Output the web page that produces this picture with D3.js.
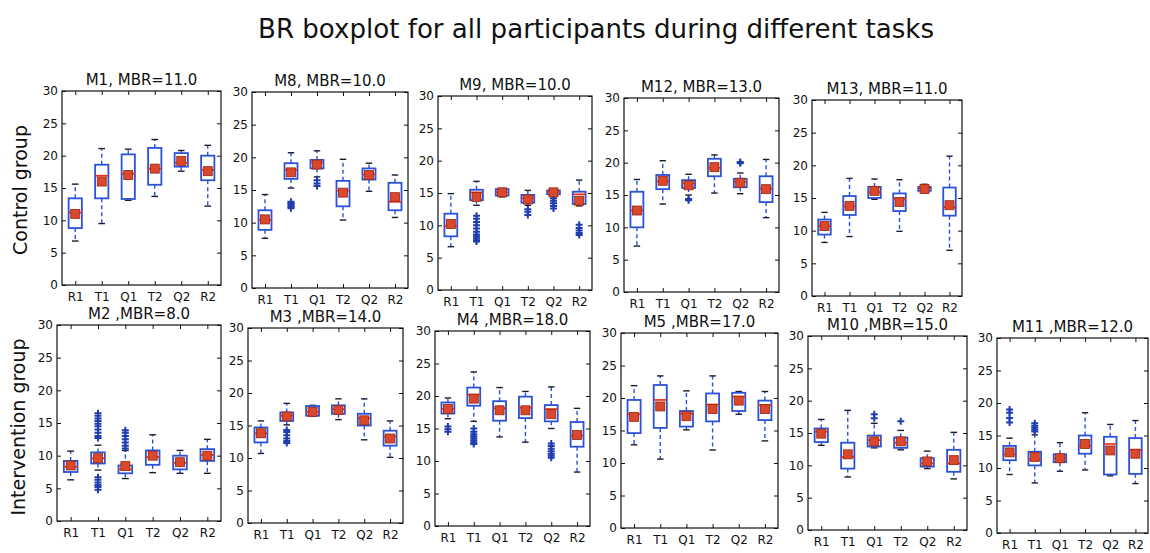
<!DOCTYPE html>
<html>
<head>
<meta charset="utf-8">
<script src="https://cdn.jsdelivr.net/npm/d3@7"></script>
<style>
  body { margin: 0; background: #fff; }
  svg { display: block; font-family: "DejaVu Sans", sans-serif; }
</style>
</head>
<body>
<svg id="chart" width="1150" height="553"></svg>
<script>
const tasks = ["R1", "T1", "Q1", "T2", "Q2", "R2"];
const yTicks = [0, 5, 10, 15, 20, 25, 30];

const panelTitles = [
  "M1, MBR=11.0", "M8, MBR=10.0", "M9, MBR=10.0", "M12, MBR=13.0", "M13, MBR=11.0",
  "M2 ,MBR=8.0", "M3 ,MBR=14.0", "M4 ,MBR=18.0", "M5 ,MBR=17.0", "M10 ,MBR=15.0", "M11 ,MBR=12.0"
];

// each row: [low cap, q1, median, q3, high cap, mean]
const m1 = [[6.8, 8.8, 11.2, 13.4, 15.6, 11.0], [9.5, 13.4, 16.9, 18.6, 21.1, 16.0], [13.1, 13.3, 17.2, 20.2, 21.0, 17.0],
  [13.7, 15.5, 18.0, 21.2, 22.5, 18.0], [17.6, 18.3, 18.9, 20.4, 20.8, 19.2], [12.2, 16.2, 17.8, 20.0, 21.6, 17.6]];
const m8 = [[7.6, 8.9, 10.4, 11.9, 14.3, 10.5], [15.3, 16.7, 18.1, 19.1, 20.7, 17.7], [17.0, 18.3, 19.2, 19.6, 21.0, 18.9],
  [10.4, 12.5, 14.9, 16.4, 19.7, 14.6], [14.8, 16.6, 17.4, 18.3, 19.1, 17.3], [10.8, 11.9, 13.2, 16.1, 17.3, 13.9]];
const m9 = [[6.7, 8.3, 9.9, 11.8, 14.9, 10.2], [13.1, 13.9, 15.1, 15.5, 16.8, 14.4], [14.4, 14.6, 15.1, 15.6, 15.7, 15.1],
  [13.1, 13.5, 14.2, 14.7, 15.4, 14.0], [14.7, 14.8, 15.2, 15.4, 15.6, 15.1], [13.0, 13.3, 14.8, 15.2, 17.0, 13.8]];
const m12 = [[7.1, 10.0, 12.6, 15.5, 17.4, 12.6], [13.6, 15.9, 17.1, 18.1, 20.3, 17.2], [15.0, 16.1, 16.8, 17.3, 18.2, 16.5],
  [15.3, 17.9, 19.2, 20.6, 21.2, 19.3], [15.2, 16.2, 17.0, 17.5, 18.4, 16.9], [11.5, 13.9, 16.0, 17.9, 20.5, 15.9]];
const m13 = [[8.2, 9.4, 10.7, 11.7, 12.8, 10.7], [9.1, 12.4, 13.7, 15.3, 18.0, 13.8], [14.8, 15.0, 15.9, 16.7, 17.9, 16.1],
  [9.9, 13.0, 14.9, 15.7, 17.8, 14.4], [15.8, 16.1, 16.5, 16.7, 17.1, 16.4], [7.0, 12.3, 13.6, 16.6, 21.4, 13.9]];
const m2 = [[6.3, 7.5, 8.3, 9.2, 10.7, 8.5], [7.8, 8.8, 9.6, 10.5, 11.6, 9.6], [6.5, 7.3, 7.9, 8.5, 10.8, 8.4],
  [7.4, 8.6, 9.8, 10.8, 13.2, 10.0], [7.3, 7.9, 8.9, 10.0, 10.8, 9.0], [7.3, 9.2, 10.1, 11.0, 12.5, 10.0]];
const m3 = [[10.7, 12.4, 13.8, 14.7, 15.7, 13.8], [15.1, 15.7, 16.5, 17.0, 18.4, 16.4], [16.5, 16.5, 17.1, 18.0, 18.1, 17.1],
  [15.9, 16.8, 17.5, 18.1, 19.1, 17.4], [12.8, 15.0, 16.1, 16.8, 19.1, 15.8], [10.1, 11.9, 13.3, 14.2, 15.7, 13.0]];
const m4 = [[16.5, 17.3, 18.0, 19.0, 19.7, 18.0], [16.1, 18.5, 20.2, 21.3, 23.7, 19.6], [13.7, 16.2, 18.1, 19.2, 21.3, 17.8],
  [12.9, 16.6, 18.2, 19.9, 20.7, 17.8], [15.0, 16.1, 18.0, 18.6, 21.4, 17.2], [8.3, 12.2, 13.9, 16.0, 18.1, 14.0]];
const m5 = [[12.8, 14.6, 17.5, 19.7, 21.9, 17.1], [10.6, 15.4, 19.7, 22.0, 23.4, 18.7], [15.1, 15.6, 17.6, 18.0, 21.1, 17.2],
  [12.0, 16.4, 19.0, 20.7, 23.4, 18.3], [17.5, 18.0, 20.2, 20.8, 21.0, 19.6], [13.4, 16.6, 18.9, 19.6, 21.0, 18.3]];
const m10 = [[13.1, 13.6, 15.2, 15.7, 17.1, 14.9], [8.2, 9.5, 11.3, 13.5, 18.5, 11.7], [12.7, 12.9, 13.9, 14.6, 16.5, 13.7],
  [12.4, 12.7, 13.5, 14.3, 15.4, 13.7], [9.5, 9.8, 10.3, 11.1, 12.2, 10.6], [7.9, 9.0, 10.3, 12.4, 15.1, 10.8]];
const m11 = [[9.0, 11.2, 12.1, 13.4, 14.6, 12.4], [7.7, 10.4, 11.3, 12.5, 15.1, 11.7], [9.5, 10.9, 11.5, 12.1, 13.9, 11.5],
  [9.7, 12.2, 13.4, 15.0, 18.5, 13.7], [8.8, 9.0, 13.7, 14.8, 16.7, 12.7], [7.6, 9.1, 12.8, 14.6, 17.3, 12.2]];

// outliers per task
const m1Fliers = [[], [], [], [], [], []];
const m8Fliers = [[], [13.2, 13.0, 12.8, 12.6, 12.4, 12.2], [16.5, 16.0, 15.6], [], [], []];
const m9Fliers = [[], [11.5, 11.0, 10.5, 10.0, 9.5, 9.0, 8.6, 8.3, 8.0, 7.7, 7.5], [], [12.5, 12.1, 11.6],
  [14.2, 13.8, 13.4, 13.0, 12.6], [10.1, 9.6, 9.2, 8.8, 8.5]];
const m12Fliers = [[], [], [14.4, 14.2], [], [20.1, 19.9], []];
const m13Fliers = [[], [], [], [], [], []];
const m2Fliers = [[], [16.5, 16.1, 15.7, 15.3, 14.9, 14.5, 14.0, 13.5, 13.0, 12.7, 6.7, 6.3, 5.9, 5.5, 5.2, 4.8],
  [13.9, 13.5, 13.0, 12.5, 12.0, 11.5, 11.1], [], [], []];
const m3Fliers = [[], [14.3, 14.0, 13.5, 13.0, 12.6, 12.3], [], [], [], []];
const m4Fliers = [[15.3, 14.9, 14.5], [15.0, 14.5, 14.1, 13.8, 13.5, 13.2, 12.9, 12.6], [], [],
  [12.7, 12.3, 11.9, 11.5, 11.1, 10.8, 10.5], []];
const m5Fliers = [[], [], [], [], [], []];
const m10Fliers = [[], [], [17.9, 17.3], [16.8], [], []];
const m11Fliers = [[19.0, 18.5, 17.7, 17.0], [16.9, 16.5, 16.2, 15.9, 15.6], [], [], [], []];

const panelStats = [m1, m8, m9, m12, m13, m2, m3, m4, m5, m10, m11];
const panelFliers = [m1Fliers, m8Fliers, m9Fliers, m12Fliers, m13Fliers, m2Fliers, m3Fliers, m4Fliers, m5Fliers, m10Fliers, m11Fliers];

// frame of each subplot on the page (scan is slightly skewed): [left, right, top, bottom]
const frames = [
  [62, 221, 91, 285], [252, 408, 92, 288], [438, 592, 96, 290], [624, 779, 98, 292], [812, 962, 100, 296],
  [57, 221, 325, 521], [248, 403, 328, 523], [435, 590, 331, 526], [621, 778, 333, 528], [808, 967, 336, 530], [997, 1148, 338, 533]
];

const boxColor = "#2b52d6";
const flierColor = "#1f3db0";
const medianColor = "#e5321e";
const meanFill = "#d9482a";
const meanEdge = "#9a2412";

const svg = d3.select("#chart");

svg.append("text")
  .attr("x", 258).attr("y", 38)
  .attr("textLength", 676).attr("lengthAdjust", "spacingAndGlyphs")
  .style("font-size", "27px").attr("fill", "#111")
  .text("BR boxplot for all participants during different tasks");

svg.append("text")
  .attr("transform", "translate(27,190) rotate(-90)")
  .attr("text-anchor", "middle").style("font-size", "19px").attr("fill", "#111")
  .text("Control group");

svg.append("text")
  .attr("transform", "translate(25,427) rotate(-90)")
  .attr("text-anchor", "middle").style("font-size", "19px").attr("fill", "#111")
  .text("Intervention group");

panelStats.forEach((stats, p) => {
  const [x0, x1, y0, y1] = frames[p];
  const w = x1 - x0, h = y1 - y0;
  const g = svg.append("g").attr("transform", `translate(${x0},${y0})`);

  const x = d3.scalePoint().domain(tasks).range([0, w]).padding(0.5);
  const y = d3.scaleLinear().domain([0, 30]).range([h, 0]);
  const boxW = x.step() * 0.5;

  // ticks on all four sides, pointing inward
  const styleAxis = sel => {
    sel.select(".domain").remove();
    sel.selectAll("line").attr("stroke", "#111");
    sel.selectAll("text").style("font-size", "12px").attr("fill", "#111")
      .style("font-family", "DejaVu Sans, sans-serif");
  };
  g.append("g").call(d3.axisLeft(y).tickValues(yTicks).tickSize(-4).tickPadding(4).tickFormat(d3.format("d"))).call(styleAxis);
  g.append("g").attr("transform", `translate(${w},0)`)
    .call(d3.axisRight(y).tickValues(yTicks).tickSize(-4).tickFormat("")).call(styleAxis);
  g.append("g").attr("transform", `translate(0,${h})`)
    .call(d3.axisBottom(x).tickSize(-4).tickPadding(7)).call(styleAxis);
  g.append("g").call(d3.axisTop(x).tickSize(-4).tickFormat("")).call(styleAxis);

  g.append("rect").attr("width", w).attr("height", h)
    .attr("fill", "none").attr("stroke", "#111").attr("stroke-width", 1.2);

  g.append("text").attr("x", w / 2).attr("y", -6)
    .attr("text-anchor", "middle").style("font-size", "15px").attr("fill", "#111")
    .text(panelTitles[p]);

  const items = g.selectAll(".box").data(stats).enter().append("g")
    .attr("class", "box")
    .attr("transform", (d, i) => `translate(${x(tasks[i])},0)`);

  // whiskers
  items.append("line").attr("y1", d => y(d[3])).attr("y2", d => y(d[4]))
    .attr("stroke", boxColor).attr("stroke-width", 1.4).attr("stroke-dasharray", "4,3");
  items.append("line").attr("y1", d => y(d[1])).attr("y2", d => y(d[0]))
    .attr("stroke", boxColor).attr("stroke-width", 1.4).attr("stroke-dasharray", "4,3");

  // caps
  [0, 4].forEach(k => {
    items.append("line")
      .attr("x1", -boxW / 4).attr("x2", boxW / 4)
      .attr("y1", d => y(d[k])).attr("y2", d => y(d[k]))
      .attr("stroke", "#1b1b30").attr("stroke-width", 1.4);
  });

  // box
  items.append("rect")
    .attr("x", -boxW / 2).attr("width", boxW)
    .attr("y", d => y(d[3])).attr("height", d => y(d[1]) - y(d[3]))
    .attr("fill", "#fff").attr("stroke", boxColor).attr("stroke-width", 1.8);

  // median
  items.append("line")
    .attr("x1", -boxW / 2).attr("x2", boxW / 2)
    .attr("y1", d => y(d[2])).attr("y2", d => y(d[2]))
    .attr("stroke", medianColor).attr("stroke-width", 1.7);

  // fliers
  items.each(function(d, i) {
    const fl = panelFliers[p][i];
    d3.select(this).selectAll(".flier").data(fl).enter().append("path")
      .attr("class", "flier")
      .attr("d", v => `M-3.5,${y(v)}h7M0,${y(v) - 3.5}v7`)
      .attr("stroke", flierColor).attr("stroke-width", 2);
  });

  // mean marker
  items.append("rect")
    .attr("x", -4.5).attr("width", 9)
    .attr("y", d => y(d[5]) - 4.5).attr("height", 9)
    .attr("fill", meanFill).attr("stroke", meanEdge).attr("stroke-width", 0.8);
});
</script>
</body>
</html>
